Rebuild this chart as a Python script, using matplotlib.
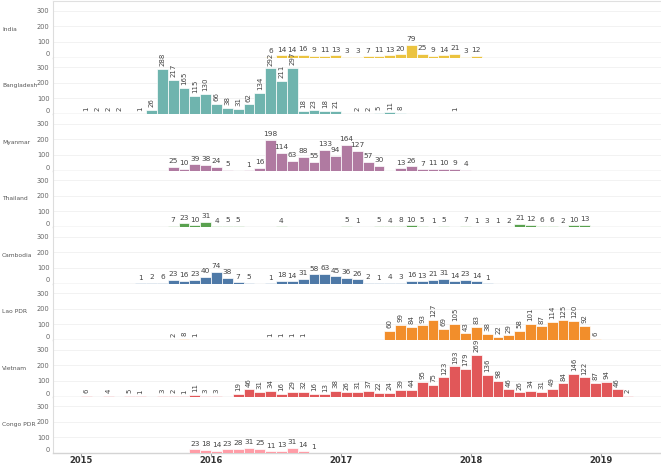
import numpy as np
import matplotlib
matplotlib.use("Agg")
import matplotlib.pyplot as plt

# monthly counts per country, None = no data that month
countries = ["India", "Bangladesh", "Myanmar", "Thailand", "Cambodia", "Lao PDR", "Vietnam", "Congo PDR"]
colors = ["#EBC33F", "#6FB4AE", "#B07AA1", "#59A14F", "#4E79A7", "#F28E2B", "#E15759", "#FF9DA7"]
vertical = [False, True, False, False, False, True, True, False]

india_start = "2016-06"
india = [6, 14, 14, 16, 9, 11, 13, 3, 3, 7, 11, 13, 20, 79, 25, 9, 14, 21, 3, 12]

bangladesh_start = "2015-01"
bangladesh = [1, 2, 2, 2, None, 1, 26, 288, 217, 165, 115, 130,
              66, 38, 31, 62, 134, 292, 211, 297, 18, 23, 18, 21,
              None, 2, 2, 5, 11, 8, None, None, None, None, 1]

myanmar_start = "2015-09"
myanmar = [25, 10, 39, 38, 24, 5, None, 1, 16, 198, 114, 63, 88, 55, 133, 94,
           164, 127, 57, 30, None, 13, 26, 7, 11, 10, 9, 4]

thailand_start = "2015-09"
thailand = [7, 23, 10, 31, 4, 5, 5, None, None, None, 4, None, None, None, None, None,
            5, 1, None, 5, 4, 8, 10, 5, 1, 5, None, 7,
            1, 3, 1, 2, 21, 12, 6, 6, 2, 10, 13]

cambodia_start = "2015-06"
cambodia = [1, 2, 6, 23, 16, 23, 40, 74, 38, 7, 5, None, 1, 18, 14, 31, 58, 63, 45,
            36, 26, 2, 1, 4, 3, 16, 13, 21, 31, 14, 23, 14, 1]

lao_start = "2015-09"
lao = [2, 8, 1, None, None, None, None, None, None, 1, 1, 1, 1,
       None, None, None, None, None, None, None,
       60, 99, 84, 93, 127, 69, 105, 43, 83, 38, 22, 29, 58, 101, 87, 114, 125, 120, 92, 6]

vietnam_start = "2015-01"
vietnam = [6, None, 4, None, 5, 1, None, 3, 2, 1, 11, 3,
           3, None, 19, 46, 31, 34, 16, 29, 32, 16, 13, 38,
           26, 31, 37, 22, 24, 39, 44, 95, 75, 123, 193, 179,
           269, 136, 98, 46, 26, 34, 31, 49, 84, 146, 122, 87,
           94, 46, 2]

congo_start = "2015-11"
congo = [23, 18, 14, 23, 28, 31, 25, 11, 13, 31, 14, 1]

years = [2015, 2016, 2017, 2018, 2019]

starts = [india_start, bangladesh_start, myanmar_start, thailand_start,
          cambodia_start, lao_start, vietnam_start, congo_start]
series = [india, bangladesh, myanmar, thailand, cambodia, lao, vietnam, congo]


def month_index(s):
    y, m = s.split("-")
    return (int(y) - 2015) * 12 + int(m) - 1


W, H = 661, 466
fig = plt.figure(figsize=(W / 100, H / 100), dpi=100)
left, right = 53 / W, 1.0
top, bottom = 1 - 1 / H, 1 - 453 / H
row_h = (top - bottom) / len(countries)

for i, name in enumerate(countries):
    ax = fig.add_axes([left, top - (i + 1) * row_h, right - left, row_h])
    s0 = month_index(starts[i])
    vals = series[i]
    xs = [s0 + k for k, v in enumerate(vals) if v is not None]
    ys = [v for v in vals if v is not None]
    ax.bar(xs, ys, width=1.0, align="edge", color=colors[i],
           edgecolor="white", linewidth=0.5, zorder=3)
    for x, y in zip(xs, ys):
        if vertical[i]:
            ax.annotate(str(y), (x + 0.5, y), xytext=(0, 2), textcoords="offset points",
                        rotation=90, ha="center", va="bottom", fontsize=5, color="#444444")
        else:
            ax.annotate(str(y), (x + 0.5, y), xytext=(0, 2), textcoords="offset points",
                        ha="center", va="bottom", fontsize=5.3, color="#444444")

    ax.set_xlim(-2.6, 53.55)
    ax.set_ylim(0, 362)
    ax.set_yticks([0, 100, 200, 300])
    ax.tick_params(axis="y", length=0, labelsize=4.8, labelcolor="#666666", pad=2.5)
    ax.yaxis.grid(True, color="#f0f0f0", linewidth=0.6, zorder=0)
    ax.set_axisbelow(True)
    for sp in ["top", "right"]:
        ax.spines[sp].set_visible(False)
    ax.spines["left"].set_color("#dddddd")
    ax.spines["left"].set_linewidth(0.8)
    ax.spines["bottom"].set_color("#d4d4d4")
    ax.spines["bottom"].set_linewidth(1.0)
    if i == 0:
        ax.spines["top"].set_visible(True)
        ax.spines["top"].set_color("#e0e0e0")
    ax.set_xticks([(y - 2015) * 12 for y in years])
    if i < len(countries) - 1:
        ax.tick_params(axis="x", length=0, labelbottom=False)
    else:
        ax.set_xticklabels([str(y) for y in years])
        ax.tick_params(axis="x", length=2, color="#999999", labelsize=6,
                       labelcolor="#333333", pad=0.5)
        for lbl in ax.get_xticklabels():
            lbl.set_fontweight("bold")
    # keep the zero label inside its pane
    ax.yaxis.get_major_ticks()[0].label1.set_verticalalignment("bottom")

    yc = top - (i + 0.5) * row_h
    fig.text(2 / W, yc, name, ha="left", va="center", fontsize=4.3, color="#555555")

fig.savefig("out.png", dpi=100)
